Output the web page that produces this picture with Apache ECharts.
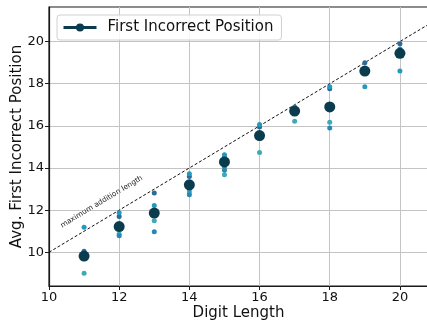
<!DOCTYPE html>
<html>
<head>
<meta charset="utf-8">
<script src="https://cdn.jsdelivr.net/npm/echarts@6/dist/echarts.min.js"></script>
<style>
  html, body { margin: 0; padding: 0; background: #fff; }
  #chart { width: 427px; height: 320px; }
</style>
</head>
<body>
<div id="chart"></div>
<script>
// Digit lengths evaluated
const digitLengths = [11, 12, 13, 14, 15, 16, 17, 18, 19, 20];

// Average first incorrect position, averaged over runs
const meanPosition = [9.82, 11.22, 11.86, 13.2, 14.29, 15.54, 16.7, 16.9, 18.6, 19.44];

// Individual runs
const runA = [10.05, 11.70, 12.81, 13.60, 14.52, 15.95, 16.82, 17.76, 19.00, 19.90];
const runB = [11.19, 11.88, 12.22, 13.73, 14.63, 16.06, 16.89, 17.86, 17.86, 18.60];
const runC = [9.00, 10.87, 11.50, 12.86, 13.68, 14.74, 16.22, 16.17, 18.50, 19.55];
const runD = [9.90, 10.78, 10.98, 12.73, 13.89, 15.40, 16.60, 15.90, 18.60, 19.65];
const runE = [9.85, 11.30, 11.75, 13.00, 14.05, 15.60, 16.75, 16.80, 18.70, 19.50];

// Reference diagonal: position equals digit length
const diagonal = [10, 21];

const xTicks = [10, 12, 14, 16, 18, 20];
const yTicks = [10, 12, 14, 16, 18, 20];

const runSets = [
  { data: runA, color: '#2b6b9b' },
  { data: runB, color: '#2399bd' },
  { data: runC, color: '#3daab6' },
  { data: runD, color: '#2788b6' },
  { data: runE, color: '#2f8fae' }
];

const font = 'DejaVu Sans';
const chart = echarts.init(document.getElementById('chart'), null, { renderer: 'canvas' });

const series = [];
series.push({
  name: 'diag',
  type: 'line',
  data: diagonal.map(v => [v, v]),
  showSymbol: false,
  silent: true,
  clip: true,
  lineStyle: { color: '#111', width: 1, type: [3, 2] },
  z: 1
});
runSets.forEach((r, i) => {
  series.push({
    name: 'run' + i,
    type: 'scatter',
    data: digitLengths.map((d, k) => [d, r.data[k]]),
    symbolSize: 5,
    itemStyle: { color: r.color, opacity: 1 },
    z: 2
  });
});
series.push({
  name: 'First Incorrect Position',
  type: 'line',
  data: digitLengths.map((d, k) => [d, meanPosition[k]]),
  symbol: 'circle',
  symbolSize: 11,
  showSymbol: true,
  itemStyle: { color: '#0b3c4e' },
  lineStyle: { width: 0, opacity: 0 },
  z: 5
});

const option = {
  animation: false,
  backgroundColor: '#fff',
  grid: {
    left: 49, top: 7, right: -1, bottom: 34,
    outerBoundsMode: 'none',
    containLabel: false,
    show: true, borderColor: '#1a1a1a', borderWidth: 1.2
  },
  legend: {
    data: ['First Incorrect Position'],
    left: 57, top: 15,
    itemWidth: 33, itemHeight: 10,
    padding: [5, 8, 5, 5],
    borderColor: '#d0d0d0', borderWidth: 1, borderRadius: 3,
    backgroundColor: 'rgba(255,255,255,0.85)',
    lineStyle: { color: '#0b3c4e', width: 3, opacity: 1 },
    itemStyle: { color: '#0b3c4e' },
    textStyle: { fontFamily: font, fontSize: 15, color: '#111', padding: [0, 0, 0, 6] }
  },
  xAxis: {
    type: 'value',
    min: 10, max: 20.8,
    name: 'Digit Length',
    nameLocation: 'middle',
    nameGap: 20,
    nameMoveOverlap: false,
    nameTextStyle: { fontFamily: font, fontSize: 15, color: '#111' },
    axisLine: { show: true, onZero: false, lineStyle: { color: '#1a1a1a', width: 1.2 } },
    axisTick: { show: true, length: 4, customValues: xTicks, lineStyle: { color: '#1a1a1a' } },
    axisLabel: { customValues: xTicks, fontFamily: font, fontSize: 13, color: '#111', margin: 5 },
    splitLine: { show: true, lineStyle: { color: '#c4c4c4', width: 1 } }
  },
  yAxis: {
    type: 'value',
    min: 8.4, max: 21.64,
    name: 'Avg. First Incorrect Position',
    nameLocation: 'middle',
    nameGap: 24,
    nameMoveOverlap: false,
    nameTextStyle: { fontFamily: font, fontSize: 15, color: '#111' },
    axisLine: { show: true, onZero: false, lineStyle: { color: '#1a1a1a', width: 1.2 } },
    axisTick: { show: true, length: 4, customValues: yTicks, lineStyle: { color: '#1a1a1a' } },
    axisLabel: { customValues: yTicks, fontFamily: font, fontSize: 13, color: '#111', margin: 5 },
    splitLine: { show: true, lineStyle: { color: '#c4c4c4', width: 1 } }
  },
  series: series
};

chart.setOption(option);

// Annotation placed along the diagonal
const anchor = chart.convertToPixel({ gridIndex: 0 }, [11.5, 12.4]);
const p0 = chart.convertToPixel({ gridIndex: 0 }, [10, 10]);
const p1 = chart.convertToPixel({ gridIndex: 0 }, [20, 20]);
const angle = Math.atan2(p0[1] - p1[1], p1[0] - p0[0]);
chart.setOption({
  graphic: [{
    type: 'text',
    x: anchor[0], y: anchor[1],
    rotation: angle,
    style: {
      text: 'maximum addition length',
      fontFamily: font, fontSize: 7.3, fill: '#222',
      align: 'center', verticalAlign: 'middle'
    },
    z: 10
  }]
});
</script>
</body>
</html>
